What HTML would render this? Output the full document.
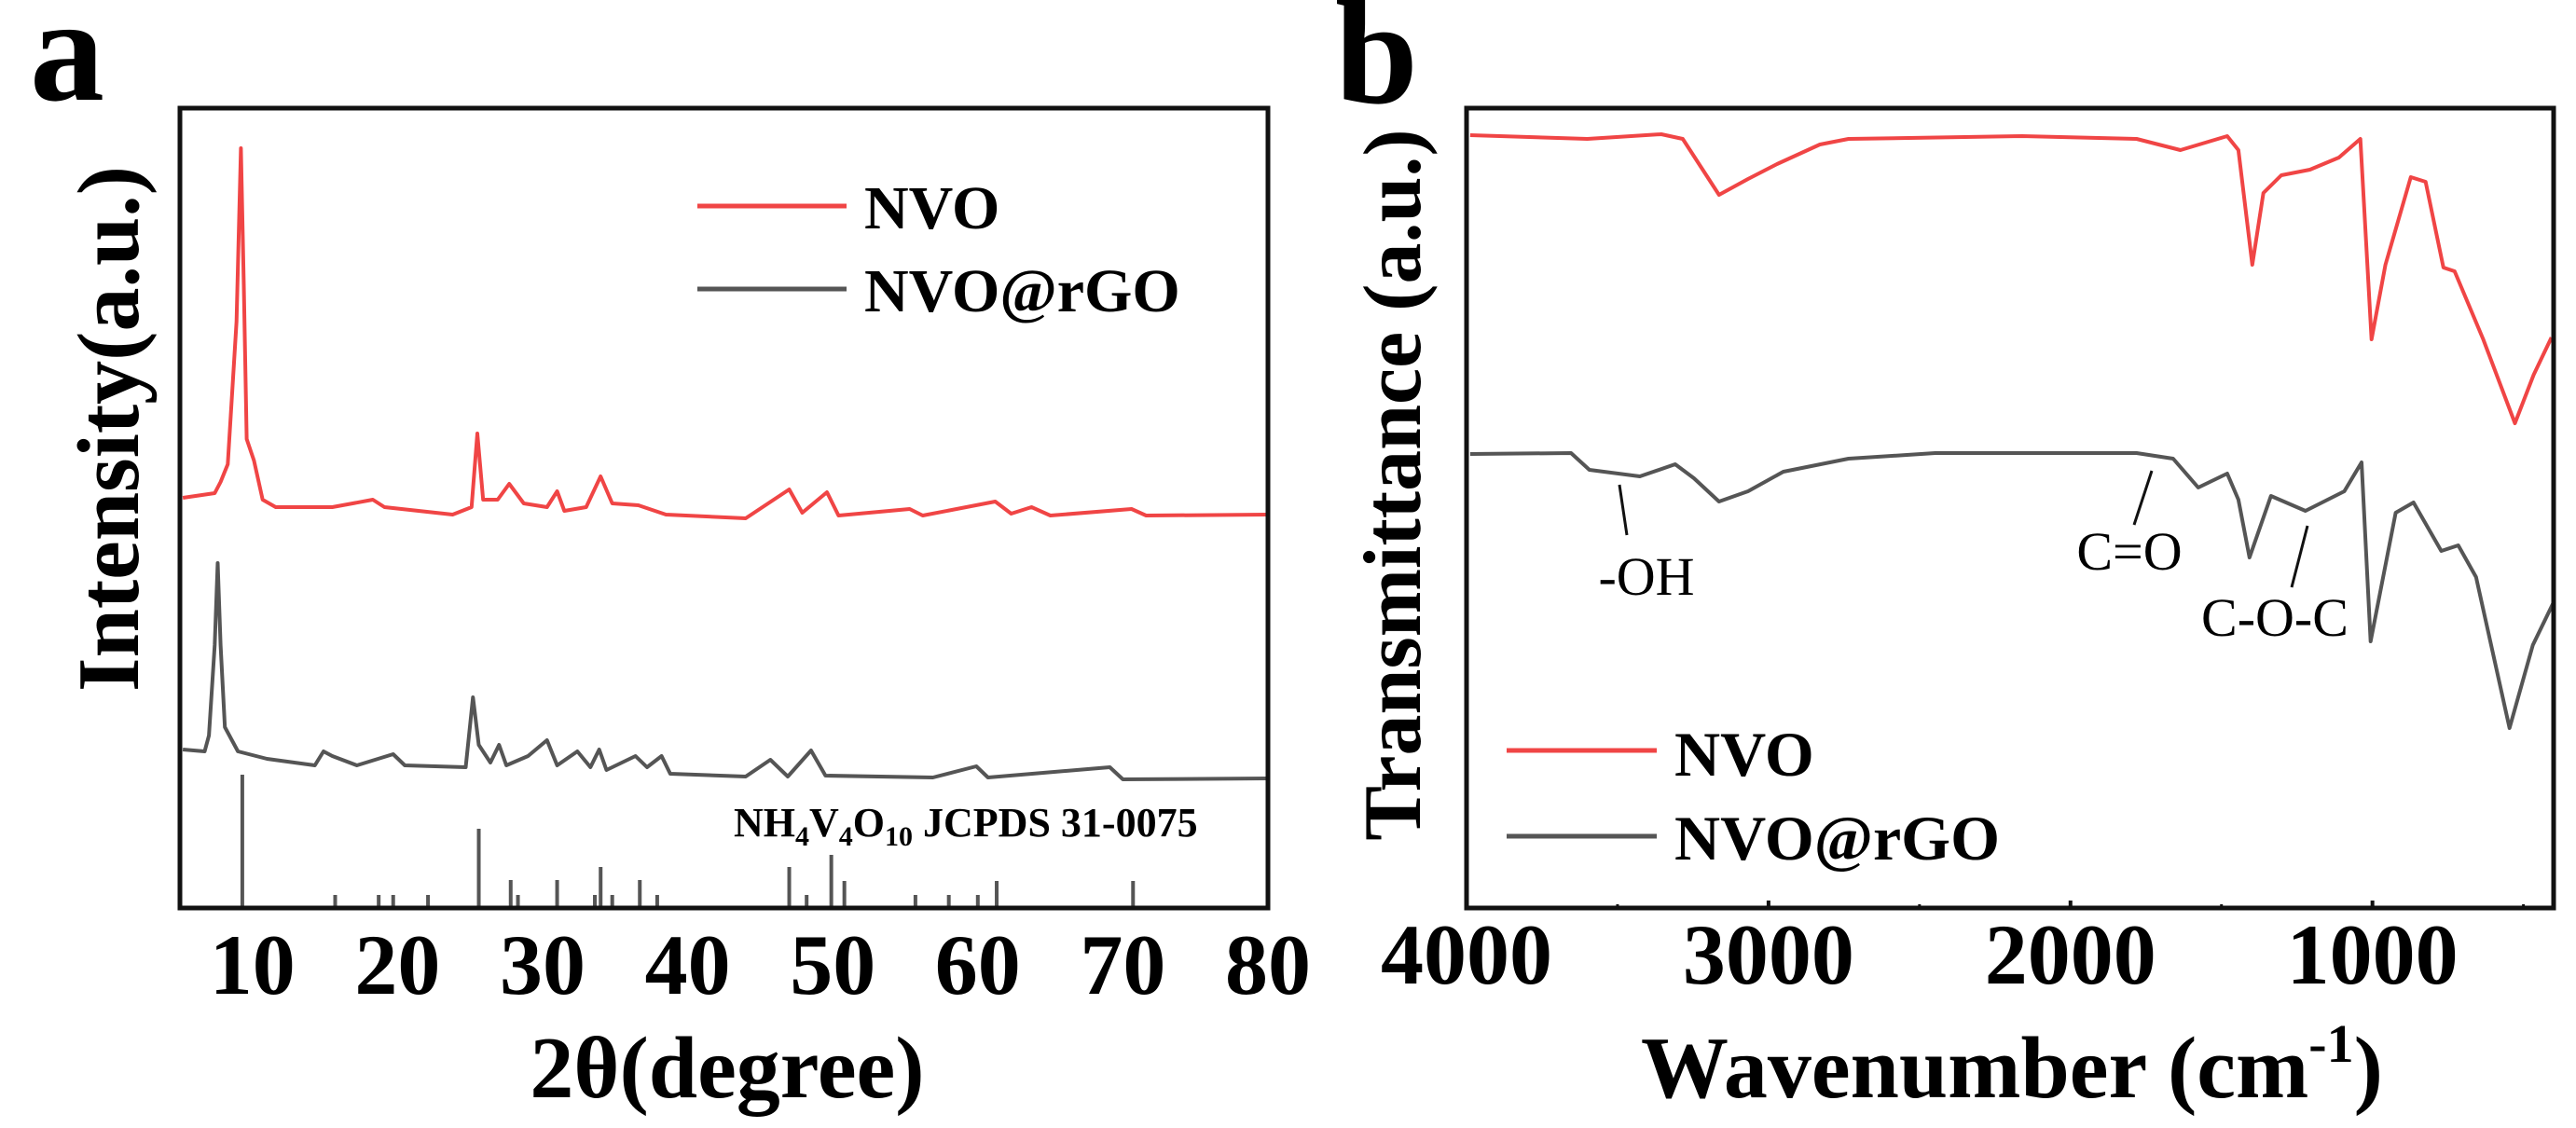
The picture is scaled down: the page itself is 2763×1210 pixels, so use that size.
<!DOCTYPE html>
<html><head><meta charset="utf-8"><style>
html,body{margin:0;padding:0;background:#fff;}
svg{display:block;font-family:"Liberation Serif",serif;font-weight:bold;}
</style></head><body>
<svg id="fig" width="2763" height="1210" viewBox="0 0 2763 1210" xmlns="http://www.w3.org/2000/svg">
<g id="pa"></g>
<g id="pb"></g>
</svg>
<script>
// ---- Panel a: XRD data (2theta in degrees, intensity in arbitrary counts) ----
const xrdNvoX = [5.2,7.4,7.8,8.3,8.9,9.2,9.4,9.6,10.1,10.7,11.6,15.5,18.3,19.1,23.8,25.1,25.5,25.9,26.9,27.7,28.7,30.3,31.0,31.5,33.0,34.0,34.8,36.6,38.5,44.0,47.0,47.9,49.6,50.4,55.3,56.2,61.2,62.3,63.7,65.0,70.6,71.6,80.0];
const xrdNvoY = [440,445,457,476,629,815,668,503,480,438,430,430,438,430,422,430,509,438,438,455,434,430,447,426,430,463,434,432,422,418,449,424,446,421,428,421,436,423,430,421,428,421,422];
const xrdRgoX = [5.2,6.7,7.0,7.4,7.6,7.8,8.1,9.0,11.0,14.3,14.9,15.5,17.2,19.7,20.5,24.7,25.2,25.6,26.4,27.0,27.5,29.0,30.3,31.0,32.4,33.3,33.9,34.4,36.4,37.2,38.2,38.8,44.0,45.7,46.9,48.5,49.5,56.9,59.9,60.7,69.1,70.0,80.0];
const xrdRgoY = [170,168,185,282,370,282,194,168,160,153,168,163,153,165,153,151,226,175,156,175,153,163,180,153,168,151,170,148,163,151,163,144,141,159,141,169,142,140,152,140,151,138,139];
const refX = [9.3,15.7,18.7,19.7,22.1,25.6,27.8,28.3,31.0,33.6,34.0,34.8,36.7,37.9,47.0,48.2,49.9,50.8,55.7,58.0,60.0,61.3,70.7];
const refH = [143,14,14,14,14,85,30,14,30,14,44,14,30,14,44,14,57,29,14,14,14,29,29];
const xrdTicks = [10,20,30,40,50,60,70,80];

// ---- Panel b: FTIR data (wavenumber cm-1, transmittance arbitrary) ----
const ftNvoX = [3988,3600,3355,3284,3164,3068,2972,2830,2735,2160,1781,1636,1481,1444,1398,1361,1302,1207,1111,1040,1003,957,873,824,765,728,633,528,466,407];
const ftNvoY = [829,825,830,825,765,782,798,819,825,828,825,813,828,813,690,767,786,792,805,825,610,690,784,779,687,683,610,520,572,612];
const ftRgoX = [3988,3654,3593,3426,3309,3247,3164,3068,2951,2735,2448,1781,1660,1577,1481,1444,1407,1336,1222,1093,1036,1006,923,864,772,716,657,546,469,400];
const ftRgoY = [487,488,470,463,476,461,436,447,468,482,488,488,482,451,466,438,376,442,426,447,478,286,424,435,383,389,355,193,282,328];
const ftMajor = [4000,3000,2000,1000];
const ftMinor = [3500,2500,1500,500];

const NS = "http://www.w3.org/2000/svg";
function mk(parent, tag, attrs, text){
  const e = document.createElementNS(NS, tag);
  for (const k in attrs) e.setAttribute(k, attrs[k]);
  if (text !== undefined) e.textContent = text;
  parent.appendChild(e);
  return e;
}

// axes functions
const A = {l:193, r:1360, t:116, b:974, x0:5, x1:80, y0:0, y1:858};
const xa = v => A.l + (v - A.x0) * (A.r - A.l) / (A.x1 - A.x0);
const ya = v => A.b - (v - A.y0) * (A.b - A.t) / (A.y1 - A.y0);
const B = {l:1573, r:2739, t:116, b:974, x0:4000, x1:400, y0:0, y1:858};
const xb = v => B.l + (v - B.x0) * (B.r - B.l) / (B.x1 - B.x0);
const yb = v => B.b - (v - B.y0) * (B.b - B.t) / (B.y1 - B.y0);

function pathFrom(xs, ys, fx, fy){
  return xs.map((x,i)=>(i?"L":"M")+fx(x).toFixed(1)+","+fy(ys[i]).toFixed(1)).join(" ");
}

// ---------- Panel a ----------
const pa = document.getElementById("pa");
let t = mk(pa,"text",{x:32,y:107,"font-size":160,fill:"#000"},"a");



let p = mk(pa,"path",{d:pathFrom(xrdNvoX,xrdNvoY,xa,ya),fill:"none",stroke:"#f04545","stroke-width":4,"stroke-linejoin":"round"});


p = mk(pa,"path",{d:pathFrom(xrdRgoX,xrdRgoY,xa,ya),fill:"none",stroke:"#555","stroke-width":4,"stroke-linejoin":"round"});



refX.forEach((v,i)=>{
  const s = mk(pa,"line",{x1:xa(v),x2:xa(v),y1:A.b,y2:ya(refH[i]),stroke:"#555","stroke-width":4});
  
  
});

t = mk(pa,"text",{x:787,y:897,"font-size":44,fill:"#000"});


t.innerHTML = 'NH<tspan font-size="30" dy="10">4</tspan><tspan dy="-10">V</tspan><tspan font-size="30" dy="10">4</tspan><tspan dy="-10">O</tspan><tspan font-size="30" dy="10">10</tspan><tspan dy="-10"> JCPDS 31-0075</tspan>';

let fr = mk(pa,"rect",{x:A.l,y:A.t,width:A.r-A.l,height:A.b-A.t,fill:"none",stroke:"#111","stroke-width":5});



xrdTicks.forEach(v=>{
  const l = mk(pa,"text",{x:xa(v),y:1066,"font-size":92,"text-anchor":"middle",fill:"#000"},String(v));
  
  
});
t = mk(pa,"text",{x:780,y:1177,"font-size":94,"text-anchor":"middle",fill:"#000"},"2θ(degree)");


t = mk(pa,"text",{x:0,y:0,"font-size":94,"text-anchor":"middle",fill:"#000",transform:"translate(148,460) rotate(-90)"},"Intensity(a.u.)");



// legend a
let lg = mk(pa,"line",{x1:748,x2:908,y1:221,y2:221,stroke:"#f04545","stroke-width":5});


t = mk(pa,"text",{x:927,y:245,"font-size":66,fill:"#000"},"NVO");


lg = mk(pa,"line",{x1:748,x2:908,y1:310,y2:310,stroke:"#555","stroke-width":5});


t = mk(pa,"text",{x:927,y:334,"font-size":66,fill:"#000"},"NVO@rGO");



// ---------- Panel b ----------
const pb = document.getElementById("pb");
t = mk(pb,"text",{x:1432,y:110,"font-size":160,fill:"#000"},"b");



p = mk(pb,"path",{d:pathFrom(ftNvoX,ftNvoY,xb,yb),fill:"none",stroke:"#f04545","stroke-width":4,"stroke-linejoin":"round"});


p = mk(pb,"path",{d:pathFrom(ftRgoX,ftRgoY,xb,yb),fill:"none",stroke:"#555","stroke-width":4,"stroke-linejoin":"round"});



fr = mk(pb,"rect",{x:B.l,y:B.t,width:B.r-B.l,height:B.b-B.t,fill:"none",stroke:"#111","stroke-width":5});



ftMajor.forEach(v=>{
  const k = mk(pb,"line",{x1:xb(v),x2:xb(v),y1:B.b,y2:B.b-8,stroke:"#111","stroke-width":4});
  
  
  const l = mk(pb,"text",{x:xb(v),y:1055,"font-size":92,"text-anchor":"middle",fill:"#000"},String(v));
  
  
});
ftMinor.forEach(v=>{
  const k = mk(pb,"line",{x1:xb(v),x2:xb(v),y1:B.b,y2:B.b-4,stroke:"#111","stroke-width":3});
  
  
});

t = mk(pb,"text",{x:2158,y:1177,"font-size":94,"text-anchor":"middle",fill:"#000"});


t.innerHTML = 'Wavenumber (cm<tspan font-size="58" dy="-38">-1</tspan><tspan dy="38">)</tspan>';
t = mk(pb,"text",{x:0,y:0,"font-size":88,"text-anchor":"middle",fill:"#000",transform:"translate(1523,520) rotate(-90)"},"Transmittance (a.u.)");



// annotations
[["-OH",1766,638,1737,520,1745,574,"annotation-oh"],["C=O",2284,611,2308,505,2289,563,"annotation-co"],["C-O-C",2440,682,2475,564,2458,630,"annotation-coc"]].forEach(a=>{
  const ln = mk(pb,"line",{x1:a[3],y1:a[4],x2:a[5],y2:a[6],stroke:"#111","stroke-width":3});
  
  
  const tx = mk(pb,"text",{x:a[1],y:a[2],"font-size":58,"font-weight":"normal","text-anchor":"middle",fill:"#000"},a[0]);
  
  
});

// legend b
lg = mk(pb,"line",{x1:1616,x2:1777,y1:805,y2:805,stroke:"#f04545","stroke-width":5});


t = mk(pb,"text",{x:1796,y:832,"font-size":68,fill:"#000"},"NVO");


lg = mk(pb,"line",{x1:1616,x2:1777,y1:897,y2:897,stroke:"#555","stroke-width":5});


t = mk(pb,"text",{x:1796,y:922,"font-size":68,fill:"#000"},"NVO@rGO");


</script>
</body></html>
